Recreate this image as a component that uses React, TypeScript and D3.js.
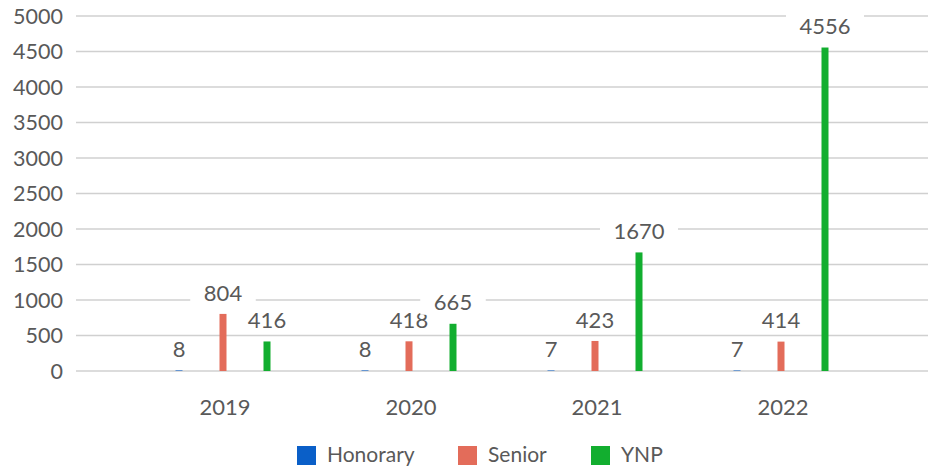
import { useRef, useEffect } from 'react';
import * as d3 from 'd3';

const years = ['2019', '2020', '2021', '2022'];
const seriesNames = ['Honorary', 'Senior', 'YNP'];
const honorary = [8, 8, 7, 7];
const senior = [804, 418, 423, 414];
const ynp = [416, 665, 1670, 4556];
const yTicks = [0, 500, 1000, 1500, 2000, 2500, 3000, 3500, 4000, 4500, 5000];
const colors = ['#0a5fc8', '#e36c5a', '#12ae2f'];

const W = 928;
const H = 470;
const FONT = 'Lato, "DejaVu Sans", sans-serif';
const TXT = '#595959';

const App = () => {
  const ref = useRef<SVGSVGElement>(null);

  useEffect(() => {
    const svg = d3.select(ref.current);
    svg.selectAll('*').remove();

    const y = d3.scaleLinear().domain([0, 5000]).range([371, 16]);
    const x0 = d3.scaleBand().domain(years).range([129, 873]);
    const x1 = d3.scalePoint().domain(seriesNames).range([-43, 45]);
    const values = [honorary, senior, ynp];
    const barW = 7;

    // gridlines + y labels
    const grid = svg.append('g');
    grid.selectAll('line')
      .data(yTicks)
      .enter().append('line')
      .attr('x1', 76)
      .attr('x2', W)
      .attr('y1', d => y(d))
      .attr('y2', d => y(d))
      .attr('stroke', '#d0d0d0')
      .attr('stroke-width', 1.5);

    grid.selectAll('text')
      .data(yTicks)
      .enter().append('text')
      .attr('x', 63)
      .attr('y', d => y(d))
      .attr('dy', '0.35em')
      .attr('text-anchor', 'end')
      .attr('font-family', FONT)
      .attr('font-size', 21.5)
      .attr('fill', TXT)
      .text(d => d);

    // bars
    const rows = seriesNames.flatMap((s, si) =>
      years.map((yr, i) => ({ s, si, yr, v: values[si][i] })));

    svg.append('g').selectAll('rect')
      .data(rows)
      .enter().append('rect')
      .attr('x', d => x0(d.yr)! + x0.bandwidth() / 2 + x1(d.s)! - barW / 2)
      .attr('y', d => y(d.v))
      .attr('width', barW)
      .attr('height', d => y(0) - y(d.v))
      .attr('fill', d => colors[d.si]);

    // value labels with white boxes
    const lab = svg.append('g').selectAll('g')
      .data(rows)
      .enter().append('g')
      .attr('transform', d =>
        `translate(${x0(d.yr)! + x0.bandwidth() / 2 + x1(d.s)!}, ${y(d.v) - 21})`);

    lab.append('rect')
      .attr('x', d => -(String(d.v).length * 12.5) / 2 - 14)
      .attr('y', -12)
      .attr('width', d => String(d.v).length * 12.5 + 28)
      .attr('height', 24)
      .attr('fill', '#fff');

    lab.append('text')
      .attr('text-anchor', 'middle')
      .attr('dy', '0.35em')
      .attr('font-family', FONT)
      .attr('font-size', 22)
      .attr('fill', TXT)
      .text(d => d.v);

    // x labels
    svg.append('g').selectAll('text')
      .data(years)
      .enter().append('text')
      .attr('x', d => x0(d)! + x0.bandwidth() / 2 + 3)
      .attr('y', 407)
      .attr('dy', '0.35em')
      .attr('text-anchor', 'middle')
      .attr('font-family', FONT)
      .attr('font-size', 22)
      .attr('fill', TXT)
      .text(d => d);

    // legend
    const legX = [297, 458, 591];
    const leg = svg.append('g').selectAll('g')
      .data(seriesNames)
      .enter().append('g')
      .attr('transform', (d, i) => `translate(${legX[i]}, 455)`);

    leg.append('rect')
      .attr('x', 0)
      .attr('y', -9)
      .attr('width', 19)
      .attr('height', 19)
      .attr('fill', (d, i) => colors[i]);

    leg.append('text')
      .attr('x', 30)
      .attr('y', 0)
      .attr('dy', '0.35em')
      .attr('font-family', FONT)
      .attr('font-size', 21)
      .attr('fill', TXT)
      .text(d => d);
  }, []);

  return (
    <svg ref={ref} width={W} height={H}
      style={{ position: 'absolute', left: 0, top: 0 }}></svg>
  );
};

export default App;
